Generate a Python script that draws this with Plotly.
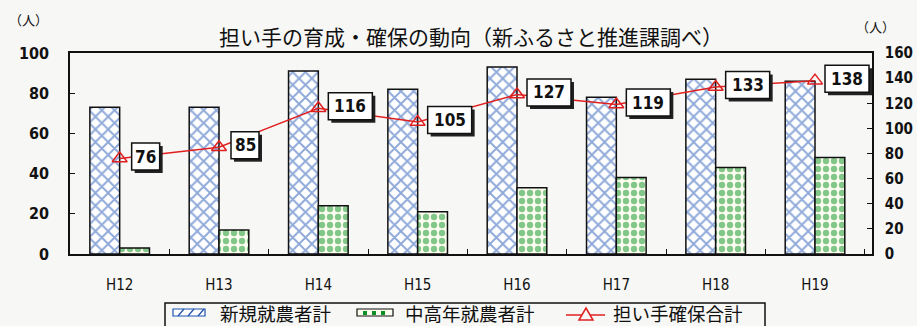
import plotly.graph_objects as go

years = ["H12", "H13", "H14", "H15", "H16", "H17", "H18", "H19"]
new_farmers = [73, 73, 91, 82, 93, 78, 87, 86]
midage_farmers = [3, 12, 24, 21, 33, 38, 43, 48]
total_secured = [76, 85, 116, 105, 127, 119, 133, 138]

left_ticks = [0, 20, 40, 60, 80, 100]
right_ticks = [0, 20, 40, 60, 80, 100, 120, 140, 160]

series_names = ["新規就農者計", "中高年就農者計", "担い手確保合計"]

FONT = "Noto Sans CJK JP"
NUM_FONT = "DejaVu Sans Condensed, Noto Sans CJK JP"
BG = "#f7f7f5"
INK = "#111111"
BLUE = "#1d52b2"
GREEN = "#0a8f22"
RED = "#e02020"

# plot area in pixels: left 70, right 872, top 53, bottom 254
PL, PR, PT, PB = 70, 872, 53, 254
W, H = 917, 326


def px_to_paper(px, py):
    return (px - PL) / (PR - PL), (PB - py) / (PB - PT)


def rect_px(x0, y0, x1, y1, **kw):
    a0, b0 = px_to_paper(x0, y0)
    a1, b1 = px_to_paper(x1, y1)
    return dict(type="rect", xref="paper", yref="paper",
                x0=a0, x1=a1, y0=b1, y1=b0, **kw)


def line_px(x0, y0, x1, y1, **kw):
    a0, b0 = px_to_paper(x0, y0)
    a1, b1 = px_to_paper(x1, y1)
    return dict(type="line", xref="paper", yref="paper",
                x0=a0, x1=a1, y0=b0, y1=b1, **kw)


fig = go.Figure()

fig.add_trace(go.Bar(
    x=years, y=new_farmers, name=series_names[0],
    marker=dict(color="white",
                line=dict(color=INK, width=1.5),
                pattern=dict(shape="x", fgcolor=BLUE, bgcolor="white",
                             size=9, solidity=0.38)),
))
fig.add_trace(go.Bar(
    x=years, y=midage_farmers, name=series_names[1],
    marker=dict(color="white",
                line=dict(color=INK, width=1.5),
                pattern=dict(shape=".", fgcolor=GREEN, bgcolor="#fdfdf0",
                             size=8, solidity=0.5)),
))
fig.add_trace(go.Scatter(
    x=years, y=total_secured, name=series_names[2], yaxis="y2",
    mode="lines+markers",
    line=dict(color=RED, width=1.5),
    marker=dict(symbol="triangle-up-open", size=13, color=RED,
                line=dict(width=1.5)),
))

# boxed value labels with a drop shadow beside each point of the total line
for yr, v in zip(years, total_secured):
    txt = str(v)
    bw = 16 * len(txt) - 4      # box width in px
    bh = 27                     # box height in px
    cx, cy = 26 + (len(txt) - 2) * 6, 2   # box centre offset from the point (px)
    fig.add_shape(type="rect", xref="x", yref="y2",
                  xsizemode="pixel", ysizemode="pixel", xanchor=yr, yanchor=v,
                  x0=cx - bw / 2 + 3, x1=cx + bw / 2 + 3,
                  y0=cy - bh / 2 - 3, y1=cy + bh / 2 - 3,
                  fillcolor="#222222", line=dict(width=0), layer="above")
    fig.add_shape(type="rect", xref="x", yref="y2",
                  xsizemode="pixel", ysizemode="pixel", xanchor=yr, yanchor=v,
                  x0=cx - bw / 2, x1=cx + bw / 2,
                  y0=cy - bh / 2, y1=cy + bh / 2,
                  fillcolor="white", line=dict(width=1.5, color=INK), layer="above")
    fig.add_annotation(x=yr, y=v, xref="x", yref="y2", text=txt, showarrow=False,
                       xshift=cx, yshift=cy, xanchor="center", yanchor="middle",
                       font=dict(family=NUM_FONT, size=17, color=INK, weight="bold"))

# unit labels above each value axis
for px, py in [(28, 20), (875, 27)]:
    ax, ay = px_to_paper(px, py)
    fig.add_annotation(x=ax, y=ay, xref="paper", yref="paper",
                       xanchor="center", yanchor="middle", text="（人）",
                       showarrow=False, font=dict(family=FONT, size=13, color=INK))

# legend panel below the chart
LY = 313  # legend row centre (px)
fig.add_shape(**rect_px(165, 303, 765, 332, fillcolor=BG,
                        line=dict(color=INK, width=1.5)))
# hatched swatch
fig.add_shape(**rect_px(173, LY - 4, 205, LY + 3, fillcolor="white",
                        line=dict(color=BLUE, width=1.2)))
for sx in (178, 188, 198):
    fig.add_shape(**line_px(sx, LY + 3, sx + 6, LY - 4,
                            line=dict(color=BLUE, width=1.2)))
# checked swatch
fig.add_shape(**rect_px(357, LY - 4, 393, LY + 3, fillcolor="#fdfdf0",
                        line=dict(color=INK, width=1.2)))
for sx in (363, 372, 381):
    fig.add_shape(**rect_px(sx, LY - 2, sx + 4, LY + 2, fillcolor=GREEN,
                            line=dict(width=0)))
# line-with-marker swatch
fig.add_shape(**line_px(566, LY + 2, 605, LY + 2, line=dict(color=RED, width=1.5)))
tx0, ty0 = px_to_paper(579, LY + 7)
tx1, ty1 = px_to_paper(586, LY - 5)
tx2, ty2 = px_to_paper(593, LY + 7)
fig.add_shape(type="path", xref="paper", yref="paper",
              path=f"M{tx0},{ty0} L{tx1},{ty1} L{tx2},{ty2} Z",
              fillcolor=BG, line=dict(color=RED, width=1.5))
for name, px in zip(series_names, (219, 404, 612)):
    ax, ay = px_to_paper(px, LY)
    fig.add_annotation(x=ax, y=ay, xref="paper", yref="paper", text=name,
                       xanchor="left", yanchor="middle", showarrow=False,
                       borderpad=0,
                       font=dict(family=FONT, size=18.5, color=INK))

fig.update_layout(
    width=W, height=H,
    margin=dict(l=PL, r=W - PR, t=PT, b=H - PB),
    paper_bgcolor=BG, plot_bgcolor=BG,
    font=dict(family=FONT, color=INK),
    title=dict(text="担い手の育成・確保の動向（新ふるさと推進課調べ）",
               x=0.5, xref="paper", xanchor="center",
               y=1 - 38 / H, yanchor="middle",
               font=dict(family=FONT, size=21, color=INK)),
    barmode="group", bargap=0.4, bargroupgap=0,
    showlegend=False,
    xaxis=dict(type="category", showline=True, linecolor=INK, linewidth=1.5,
               mirror=True, ticks="inside", tickson="boundaries", ticklen=5,
               tickcolor=INK, showgrid=False, automargin=False,
               tickfont=dict(family=NUM_FONT, size=15, color=INK),
               ticklabelstandoff=16),
    yaxis=dict(range=[0, 100], tickvals=left_ticks, showline=True,
               linecolor=INK, linewidth=1.5, ticks="inside", ticklen=5,
               tickcolor=INK, showgrid=False, zeroline=False, automargin=False,
               tickfont=dict(family=NUM_FONT, size=16, color=INK, weight="bold"),
               ticklabelstandoff=16),
    yaxis2=dict(range=[0, 160], tickvals=right_ticks, overlaying="y", side="right",
                showline=True, linecolor=INK, linewidth=1.5, ticks="inside",
                ticklen=5, tickcolor=INK, showgrid=False, zeroline=False,
                automargin=False,
                tickfont=dict(family=NUM_FONT, size=15, color=INK, weight="bold"),
                ticklabelstandoff=8),
)

fig.write_html("out.html")
